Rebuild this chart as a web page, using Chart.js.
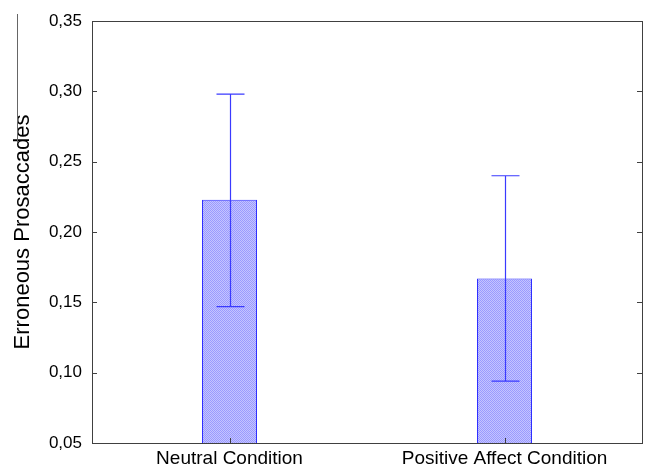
<!DOCTYPE html>
<html>
<head>
<meta charset="utf-8">
<script src="https://cdn.jsdelivr.net/npm/chart.js@4.4.0/dist/chart.umd.min.js"></script>
<style>
html,body{margin:0;padding:0;background:#fff;}
#wrap{width:649px;height:466px;position:relative;}
</style>
</head>
<body>
<div id="wrap"><canvas id="c" width="649" height="466"></canvas></div>
<script>
const categories = ["Neutral Condition", "Positive Affect Condition"];
const means = [0.223, 0.167];
const errLow = [0.147, 0.094];
const errHigh = [0.298, 0.240];
const yTicks = [0.05, 0.10, 0.15, 0.20, 0.25, 0.30, 0.35];
const yTitle = "Erroneous Prosaccades";

function makePattern() {
  const p = document.createElement('canvas');
  p.width = 2; p.height = 2;
  const g = p.getContext('2d');
  g.fillStyle = '#c4c4ff';
  g.fillRect(0, 0, 2, 2);
  g.fillStyle = '#9a9aff';
  g.fillRect(0, 0, 1, 1);
  g.fillRect(1, 1, 1, 1);
  return document.getElementById('c').getContext('2d').createPattern(p, 'repeat');
}

const axisColor = '#404040';
const fontFam = "'Liberation Sans', Arial, sans-serif";

const decor = {
  id: 'decor',
  afterDatasetsDraw(chart) {
    const ctx = chart.ctx;
    const a = chart.chartArea;
    const ys = chart.scales.y, xs = chart.scales.x;
    ctx.save();
    ctx.strokeStyle = '#3a3aff';
    ctx.lineWidth = 1.2;
    const meta = chart.getDatasetMeta(0);
    meta.data.forEach((bar, i) => {
      const x = Math.round(bar.x) + 0.5;
      const yl = ys.getPixelForValue(errLow[i]);
      const yh = ys.getPixelForValue(errHigh[i]);
      ctx.beginPath();
      ctx.moveTo(x, yl); ctx.lineTo(x, yh);
      ctx.moveTo(x - 14, yl); ctx.lineTo(x + 14, yl);
      ctx.moveTo(x - 14, yh); ctx.lineTo(x + 14, yh);
      ctx.stroke();
    });
    ctx.strokeStyle = axisColor;
    ctx.lineWidth = 1;
    ctx.strokeRect(Math.round(a.left) + 0.5, Math.round(a.top) + 0.5,
                   Math.round(a.right - a.left), Math.round(a.bottom - a.top));
    ctx.beginPath();
    yTicks.forEach(v => {
      const y = Math.round(ys.getPixelForValue(v)) + 0.5;
      ctx.moveTo(a.left, y); ctx.lineTo(a.left + 5, y);
      ctx.moveTo(a.right, y); ctx.lineTo(a.right - 5, y);
    });
    categories.forEach((c, i) => {
      const x = Math.round(xs.getPixelForValue(i)) + 0.5;
      ctx.moveTo(x, a.bottom); ctx.lineTo(x, a.bottom - 5);
    });
    ctx.stroke();
    ctx.strokeStyle = '#666';
    ctx.beginPath();
    ctx.moveTo(17.5, 14); ctx.lineTo(17.5, 143);
    ctx.stroke();
    ctx.restore();
  }
};

new Chart(document.getElementById('c'), {
  type: 'bar',
  data: {
    labels: categories,
    datasets: [{
      data: means,
      backgroundColor: makePattern(),
      borderColor: '#2f2fff',
      borderWidth: 1,
      borderSkipped: false,
      barPercentage: 0.4,
      categoryPercentage: 0.5
    }]
  },
  options: {
    responsive: false,
    animation: false,
    events: [],
    layout: { padding: { top: 21, right: 7, left: 0, bottom: 0 } },
    plugins: { legend: { display: false }, tooltip: { enabled: false } },
    scales: {
      x: {
        offset: true,
        grid: { display: false, drawTicks: false },
        border: { display: false },
        ticks: {
          color: '#000',
          padding: 4,
          font: { family: fontFam, size: 19 },
          maxRotation: 0
        },
        afterFit(s) { s.height = 23; }
      },
      y: {
        min: 0.05,
        max: 0.35,
        afterBuildTicks(s) { s.ticks = yTicks.map(v => ({ value: v })); },
        grid: { display: false, drawTicks: false },
        border: { display: false },
        ticks: {
          color: '#000',
          padding: 10,
          font: { family: fontFam, size: 17 },
          callback: v => v.toFixed(2).replace('.', ',')
        },
        title: {
          display: true,
          text: yTitle,
          color: '#000',
          padding: { top: 10, bottom: 0 },
          font: { family: fontFam, size: 22 }
        },
        afterFit(s) { s.width = 92; }
      }
    }
  },
  plugins: [decor]
});
</script>
</body>
</html>
